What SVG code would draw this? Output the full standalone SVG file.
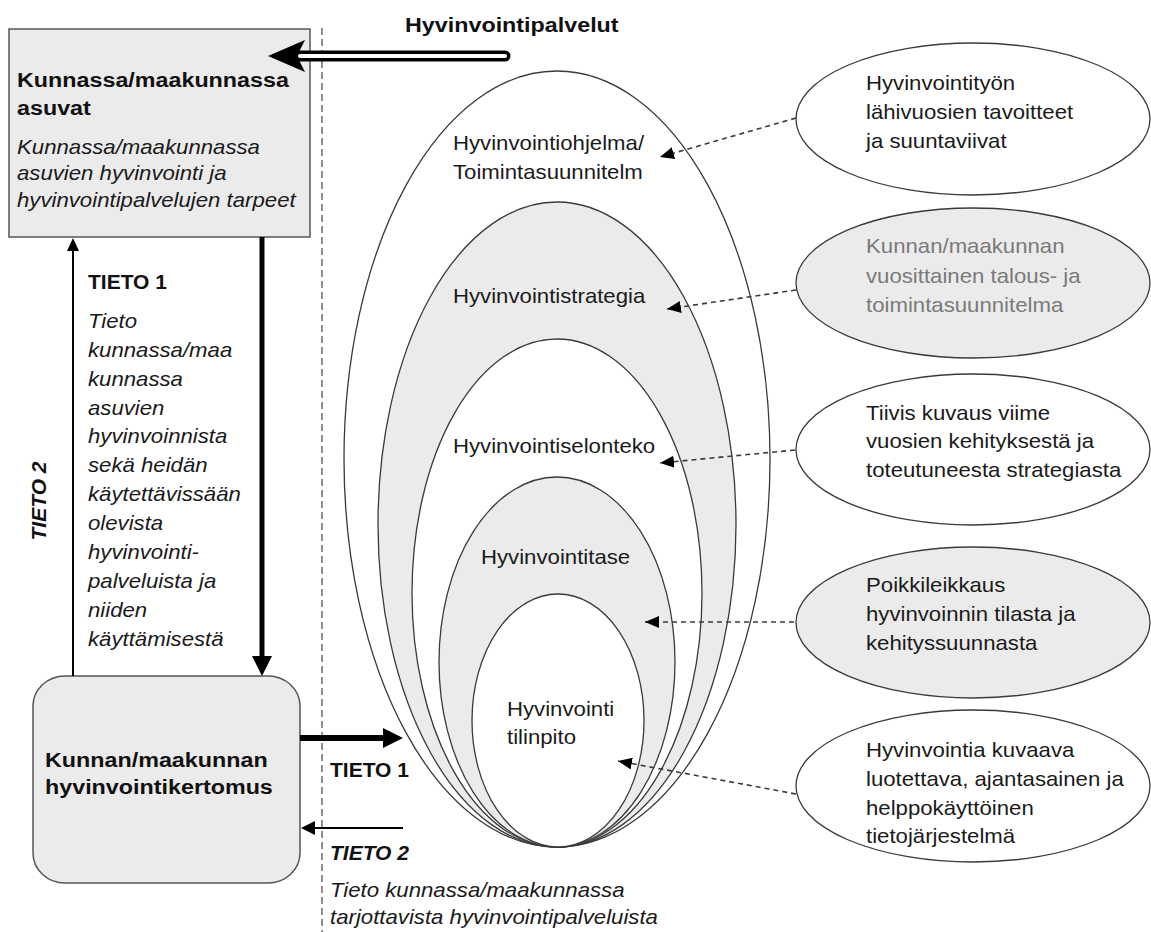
<svg xmlns="http://www.w3.org/2000/svg" width="1151" height="932" viewBox="0 0 1151 932">
<defs>
<style>
.t{font-family:"Liberation Sans",Arial,sans-serif;font-size:20px;fill:#1a1a1a}
.b{font-family:"Liberation Sans",Arial,sans-serif;font-size:21px;font-weight:bold;fill:#111}
.tb{font-family:"Liberation Sans",Arial,sans-serif;font-size:21px;font-weight:bold;fill:#111}
.i{font-style:italic}
.g{fill:#7a7a7a}
.ell{stroke:#3a3a3a;stroke-width:1.3}
.wf{fill:#ffffff}
.gf{fill:#ebebeb}
.dash{fill:none;stroke:#3a3a3a;stroke-width:1.6;stroke-dasharray:5 4}
.solid{fill:none;stroke:#000}
</style>
<marker id="ah" viewBox="0 0 14 12" refX="14" refY="6" markerWidth="14" markerHeight="12" markerUnits="userSpaceOnUse" orient="auto">
<path d="M0,0 L14,6 L0,12 z" fill="#000"/>
</marker>
</defs>
<rect width="1151" height="932" fill="#ffffff"/>

<line x1="322" y1="28" x2="322" y2="932" stroke="#555" stroke-width="1.3" stroke-dasharray="7 4"/>

<g id="node-asuvat">
<rect x="9" y="29" width="301" height="208" class="gf" stroke="#555" stroke-width="1.5"/>
<text class="b" transform="translate(17 87) scale(1.11 1)"><tspan x="0" y="0">Kunnassa/maakunnassa</tspan><tspan x="0" y="28">asuvat</tspan></text>
<text class="t i" transform="translate(17 154) scale(1.11 1)"><tspan x="0" y="0">Kunnassa/maakunnassa</tspan><tspan x="0" y="26">asuvien hyvinvointi ja</tspan><tspan x="0" y="53">hyvinvointipalvelujen tarpeet</tspan></text>
</g>

<g id="node-kertomus">
<rect x="33" y="676" width="267" height="207" rx="32" ry="30" class="gf" stroke="#555" stroke-width="1.5"/>
<text class="b" transform="translate(45 767) scale(1.11 1)"><tspan x="0" y="0">Kunnan/maakunnan</tspan><tspan x="0" y="27">hyvinvointikertomus</tspan></text>
</g>

<g id="node-nested">
<ellipse id="e-ohjelma" cx="557" cy="459" rx="213" ry="388" class="ell wf"/>
<ellipse id="e-strategia" cx="557" cy="524.5" rx="179" ry="322.5" class="ell gf"/>
<ellipse id="e-selonteko" cx="557" cy="593" rx="145" ry="254" class="ell wf"/>
<ellipse id="e-tase" cx="557" cy="662" rx="118" ry="185" class="ell gf"/>
<ellipse id="e-tilinpito" cx="558" cy="720.5" rx="86" ry="126.5" class="ell wf"/>
<text class="t" transform="translate(453 150) scale(1.11 1)"><tspan x="0" y="0">Hyvinvointiohjelma/</tspan><tspan x="0" y="29">Toimintasuunnitelm</tspan></text>
<text class="t" transform="translate(453 303) scale(1.11 1)">Hyvinvointistrategia</text>
<text class="t" transform="translate(453 453) scale(1.11 1)">Hyvinvointiselonteko</text>
<text class="t" transform="translate(481 564) scale(1.11 1)">Hyvinvointitase</text>
<text class="t" transform="translate(507 716) scale(1.11 1)"><tspan x="0" y="0">Hyvinvointi</tspan><tspan x="0" y="28">tilinpito</tspan></text>
</g>

<g id="node-r1">
<ellipse cx="973" cy="119" rx="177" ry="76" class="ell wf"/>
<text class="t" transform="translate(866 90) scale(1.11 1)"><tspan x="0" y="0">Hyvinvointityön</tspan><tspan x="0" y="29">lähivuosien tavoitteet</tspan><tspan x="0" y="58">ja suuntaviivat</tspan></text>
</g>
<g id="node-r2">
<ellipse cx="973" cy="283" rx="177" ry="75" class="ell gf"/>
<text class="t g" transform="translate(866 253) scale(1.11 1)"><tspan x="0" y="0">Kunnan/maakunnan</tspan><tspan x="0" y="30">vuosittainen talous- ja</tspan><tspan x="0" y="59">toimintasuunnitelma</tspan></text>
</g>
<g id="node-r3">
<ellipse cx="973" cy="449.5" rx="177" ry="75.5" class="ell wf"/>
<text class="t" transform="translate(866 420) scale(1.11 1)"><tspan x="0" y="0">Tiivis kuvaus viime</tspan><tspan x="0" y="28">vuosien kehityksestä ja</tspan><tspan x="0" y="57">toteutuneesta strategiasta</tspan></text>
</g>
<g id="node-r4">
<ellipse cx="973" cy="622.5" rx="177" ry="75.5" class="ell gf"/>
<text class="t" transform="translate(866 592) scale(1.11 1)"><tspan x="0" y="0">Poikkileikkaus</tspan><tspan x="0" y="29">hyvinvoinnin tilasta ja</tspan><tspan x="0" y="58">kehityssuunnasta</tspan></text>
</g>
<g id="node-r5">
<ellipse cx="973" cy="786" rx="177" ry="76" class="ell wf"/>
<text class="t" transform="translate(866 757) scale(1.11 1)"><tspan x="0" y="0">Hyvinvointia kuvaava</tspan><tspan x="0" y="29">luotettava, ajantasainen ja</tspan><tspan x="0" y="58">helppokäyttöinen</tspan><tspan x="0" y="86">tietojärjestelmä</tspan></text>
</g>

<g id="connectors">
<line x1="796" y1="118" x2="660" y2="157" class="dash" marker-end="url(#ah)"/>
<line x1="796" y1="290" x2="667" y2="309" class="dash" marker-end="url(#ah)"/>
<line x1="795" y1="450" x2="660" y2="463" class="dash" marker-end="url(#ah)"/>
<line x1="794" y1="622" x2="645" y2="622" class="dash" marker-end="url(#ah)"/>
<line x1="796" y1="794" x2="618" y2="761" class="dash" marker-end="url(#ah)"/>

<line x1="298" y1="56" x2="505" y2="56" stroke="#000" stroke-width="11" stroke-linecap="round"/>
<line x1="300" y1="56" x2="505" y2="56" stroke="#fff" stroke-width="4" stroke-linecap="round"/>
<polygon points="268,56 305,40 297,56 305,72" fill="#000"/>

<line x1="73" y1="676" x2="73" y2="248" class="solid" stroke-width="2"/>
<polygon points="73,238 79,251 67,251" fill="#000"/>

<line x1="262" y1="237" x2="262" y2="660" class="solid" stroke-width="5"/>
<polygon points="262,676 252,656 272,656" fill="#000"/>

<line x1="300" y1="738" x2="386" y2="738" class="solid" stroke-width="6"/>
<polygon points="403,738 383,728 383,748" fill="#000"/>

<line x1="403" y1="828" x2="312" y2="828" class="solid" stroke-width="2"/>
<polygon points="301,828 315,821 315,835" fill="#000"/>
</g>

<g id="labels">
<text class="tb" transform="translate(405 32) scale(1.11 1)">Hyvinvointipalvelut</text>
<text class="tb" x="88" y="289">TIETO 1</text>
<text class="t i" transform="translate(88 328) scale(1.11 1)"><tspan x="0" y="0">Tieto</tspan><tspan x="0" y="29">kunnassa/maa</tspan><tspan x="0" y="58">kunnassa</tspan><tspan x="0" y="87">asuvien</tspan><tspan x="0" y="115">hyvinvoinnista</tspan><tspan x="0" y="144">sekä heidän</tspan><tspan x="0" y="173">käytettävissään</tspan><tspan x="0" y="202">olevista</tspan><tspan x="0" y="231">hyvinvointi-</tspan><tspan x="0" y="260">palveluista ja</tspan><tspan x="0" y="289">niiden</tspan><tspan x="0" y="318">käyttämisestä</tspan></text>
<text class="tb i" text-anchor="middle" transform="translate(46 501) rotate(-90)">TIETO 2</text>
<text class="tb" x="330" y="777">TIETO 1</text>
<text class="tb i" x="330" y="860">TIETO 2</text>
<text class="t i" transform="translate(330 897) scale(1.11 1)"><tspan x="0" y="0">Tieto kunnassa/maakunnassa</tspan><tspan x="0" y="27">tarjottavista hyvinvointipalveluista</tspan></text>
</g>
</svg>
